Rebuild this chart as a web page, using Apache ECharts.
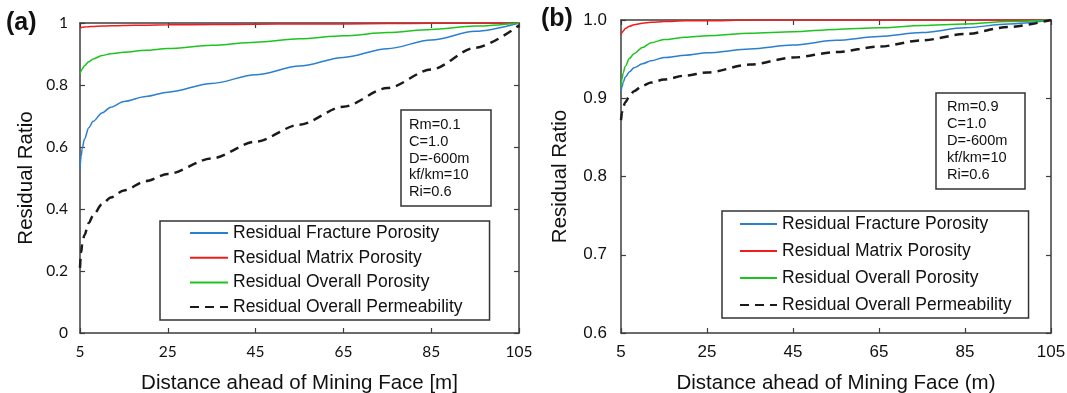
<!DOCTYPE html>
<html>
<head>
<meta charset="utf-8">
<script src="https://cdn.jsdelivr.net/npm/echarts@6/dist/echarts.min.js"></script>
<style>html,body{margin:0;padding:0;background:#fff}#c{width:1067px;height:393px}</style>
</head>
<body>
<div id="c"></div>
<script>
// Distance ahead of mining face (m)
const xs = [5, 5.25, 5.5, 6, 7, 8, 10, 12, 15, 20, 25, 35, 45, 55, 65, 75, 85, 95, 105];

// Panel (a): Rm=0.1
const aFracture = [0.53, 0.57, 0.595, 0.625, 0.662, 0.683, 0.71, 0.728, 0.747, 0.763, 0.777, 0.805, 0.833, 0.861, 0.889, 0.917, 0.945, 0.973, 1.0];
const aMatrix   = [0.984, 0.985, 0.986, 0.987, 0.988, 0.989, 0.99, 0.991, 0.992, 0.993, 0.994, 0.995, 0.996, 0.997, 0.997, 0.998, 0.999, 0.999, 1.0];
const aOverall  = [0.835, 0.845, 0.852, 0.862, 0.875, 0.884, 0.895, 0.901, 0.906, 0.912, 0.9175, 0.928, 0.938, 0.949, 0.959, 0.969, 0.979, 0.99, 1.0];
const aPerm     = [0.21, 0.26, 0.285, 0.315, 0.355, 0.38, 0.415, 0.437, 0.46, 0.49, 0.513, 0.563, 0.617, 0.672, 0.73, 0.79, 0.85, 0.92, 0.992];

// Panel (b): Rm=0.9
const bFracture = [0.909, 0.915, 0.92, 0.927, 0.934, 0.939, 0.944, 0.948, 0.952, 0.955, 0.958, 0.963, 0.968, 0.974, 0.979, 0.984, 0.99, 0.995, 1.0];
const bMatrix   = [0.981, 0.984, 0.986, 0.989, 0.992, 0.994, 0.996, 0.997, 0.998, 0.999, 0.999, 1.0, 1.0, 1.0, 1.0, 1.0, 1.0, 1.0, 1.0];
const bOverall  = [0.915, 0.925, 0.932, 0.941, 0.951, 0.957, 0.965, 0.971, 0.975, 0.978, 0.98, 0.983, 0.985, 0.988, 0.99, 0.993, 0.995, 0.998, 1.0];
const bPerm     = [0.872, 0.882, 0.889, 0.895, 0.903, 0.909, 0.916, 0.92, 0.924, 0.929, 0.933, 0.943, 0.952, 0.959, 0.966, 0.974, 0.982, 0.991, 1.0];

const seriesNames = ['Residual Fracture Porosity', 'Residual Matrix Porosity', 'Residual Overall Porosity', 'Residual Overall Permeability'];
const paramsA = ['Rm=0.1', 'C=1.0', 'D=-600m', 'kf/km=10', 'Ri=0.6'];
const paramsB = ['Rm=0.9', 'C=1.0', 'D=-600m', 'kf/km=10', 'Ri=0.6'];
const xTitleA = 'Distance ahead of Mining Face [m]';
const xTitleB = 'Distance ahead of Mining Face (m)';
const yTitle = 'Residual Ratio';

const colors = ['#2a7fd0', '#f21c1c', '#1ec41e', '#1a1a1a'];
const AX = '#3c3c3c';
const SANS = '"Liberation Sans", Arial, sans-serif';

function pts(vals) { return xs.map((x, i) => [x, vals[i]]); }

function mkSeries(vals, idx, axisIdx) {
  const dashed = idx === 3;
  return {
    name: seriesNames[idx], type: 'line', data: pts(vals),
    xAxisIndex: axisIdx, yAxisIndex: axisIdx,
    symbol: 'none', showSymbol: false, smooth: 0.3, smoothMonotone: 'x',
    lineStyle: { color: colors[idx], width: dashed ? 2.5 : 1.5, type: dashed ? [9, 6] : 'solid' },
    itemStyle: { color: colors[idx] },
    z: dashed ? 3 : 2
  };
}

function xAx(grid, pos, show, labelFont, labelSize, name) {
  return {
    type: 'value', gridIndex: grid, position: pos, min: 5, max: 105, interval: 20,
    axisLine: { show: true, onZero: false, lineStyle: { color: AX, width: 1.5 } },
    axisTick: { show: true, inside: true, length: 5, lineStyle: { color: AX, width: 1.2 } },
    axisLabel: { show: show, color: '#111', fontFamily: labelFont, fontSize: labelSize, margin: 11 },
    splitLine: { show: false },
    name: show ? name : '', nameLocation: 'middle', nameGap: 40,
    nameTextStyle: { fontFamily: SANS, fontSize: 20.5, color: '#111' }
  };
}
function yAx(grid, pos, show, min, max, interval, fmt, labelFont, labelSize, gap, margin) {
  return {
    type: 'value', gridIndex: grid, position: pos, min: min, max: max, interval: interval,
    axisLine: { show: true, onZero: false, lineStyle: { color: AX, width: 1.5 } },
    axisTick: { show: true, inside: true, length: 5, lineStyle: { color: AX, width: 1.2 } },
    axisLabel: { show: show, color: '#111', fontFamily: labelFont, fontSize: labelSize, margin: margin, formatter: fmt },
    splitLine: { show: false },
    name: show ? yTitle : '', nameLocation: 'middle', nameGap: gap,
    nameTextStyle: { fontFamily: SANS, fontSize: 20.5, color: '#111' }
  };
}

const fmtA = v => String(Math.round(v * 10) / 10);
const fmtB = v => v.toFixed(1);

function legend(left, top, pad, gap, iw) {
  return {
    show: true, orient: 'vertical', left: left, top: top, data: seriesNames,
    itemWidth: iw, itemHeight: 14, itemGap: gap, padding: pad,
    borderColor: '#333', borderWidth: 1.5, backgroundColor: '#fff',
    selectedMode: false,
    itemStyle: { color: 'rgba(0,0,0,0)', opacity: 0, borderWidth: 0 },
    textStyle: { fontFamily: SANS, fontSize: 17.5, color: '#111', lineHeight: 20 }
  };
}

function paramBox(left, top, lines, lh, pad) {
  return {
    text: lines.join('\n'), left: left, top: top, padding: pad,
    borderColor: '#333', borderWidth: 1.5,
    textStyle: { fontFamily: SANS, fontSize: 14.6, fontWeight: 'normal', color: '#111', lineHeight: lh }
  };
}

const option = {
  animation: false,
  backgroundColor: '#fff',
  title: [
    { text: '(a)', left: 6, top: 11, padding: 0, textStyle: { fontFamily: SANS, fontSize: 25, fontWeight: 'bold', color: '#111' } },
    { text: '(b)', left: 541, top: 7, padding: 0, textStyle: { fontFamily: SANS, fontSize: 25, fontWeight: 'bold', color: '#111' } },
    paramBox(401, 110, paramsA, 16.6, [7, 22, 6, 8]),
    paramBox(936, 93, paramsB, 16.8, [6, 18, 6, 11])
  ],
  legend: [
    legend(160, 221, [2, 27, 3, 29], 4.7, 38),
    legend(722, 211, [3, 17, 3, 17], 7, 37)
  ],
  grid: [
    { left: 80, top: 23, width: 439, height: 310, outerBoundsMode: 'none', containLabel: false },
    { left: 621, top: 20, width: 430, height: 313, outerBoundsMode: 'none', containLabel: false }
  ],
  xAxis: [
    xAx(0, 'bottom', true, 'Lato, sans-serif', 15.5, xTitleA),
    xAx(1, 'bottom', true, SANS, 17, xTitleB),
    xAx(0, 'top', false, SANS, 15, ''),
    xAx(1, 'top', false, SANS, 15, '')
  ],
  yAxis: [
    yAx(0, 'left', true, 0, 1, 0.2, fmtA, 'Lato, sans-serif', 15.5, 43, 12),
    yAx(1, 'left', true, 0.6, 1.0, 0.1, fmtB, SANS, 17, 50, 14),
    yAx(0, 'right', false, 0, 1, 0.2, fmtA, SANS, 15, 0, 8),
    yAx(1, 'right', false, 0.6, 1.0, 0.1, fmtB, SANS, 15, 0, 8)
  ],
  series: [
    mkSeries(aFracture, 0, 0), mkSeries(aMatrix, 1, 0), mkSeries(aOverall, 2, 0), mkSeries(aPerm, 3, 0),
    mkSeries(bFracture, 0, 1), mkSeries(bMatrix, 1, 1), mkSeries(bOverall, 2, 1), mkSeries(bPerm, 3, 1)
  ]
};

const chart = echarts.init(document.getElementById('c'), null, { renderer: 'canvas' });
chart.setOption(option);
</script>
</body>
</html>
